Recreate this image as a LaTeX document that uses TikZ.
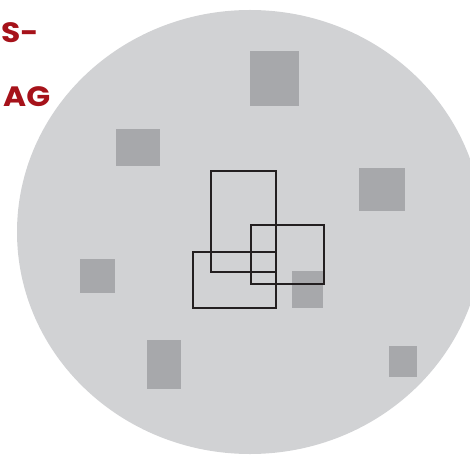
\documentclass[tikz,border=0pt]{standalone}
\usepackage{fontspec}
\usepackage{tikz}
\newfontfamily\labelfont{Poppins}[FakeStretch=1.12]
\definecolor{disc}{HTML}{D1D2D4}
\definecolor{patchgray}{HTML}{A7A8AB}
\definecolor{frameink}{HTML}{231F20}
\definecolor{crimson}{HTML}{A6121A}
\tikzset{
  plate/.style={fill=disc, draw=none},
  patch/.style={fill=patchgray, draw=none},
  frame/.style={draw=frameink, line width=2.4pt},
  tag/.style={font=\labelfont\bfseries\fontsize{28}{30}\selectfont, text=crimson, inner sep=0pt, anchor=base west}
}
\begin{document}
\begin{tikzpicture}[x=1pt, y=-1pt]
\useasboundingbox (0,0) rectangle (470,454);
\begin{scope}
\clip (0,0) rectangle (470,454);
% background disc
\fill[plate] (250,232) ellipse [x radius=233, y radius=222];
% scattered patches
\foreach \xa/\ya/\xb/\yb in {250/51/299/106, 116/129/160/166, 359/168/405/211,
                             80/259/115/293, 292/271/323/308, 147/340/181/389, 389/346/417/377}
  \fill[patch] (\xa,\ya) rectangle (\xb,\yb);
% overlapping frames
\draw[frame] (211,171) rectangle (276,272);
\draw[frame] (251,225) rectangle (324,284);
\draw[frame] (193,252) rectangle (276,308);
\end{scope}
\node[tag] (tagtop) at (1,43) {S-};
\node[tag] (tagbot) at (3,107) {AG};
\end{tikzpicture}
\end{document}
